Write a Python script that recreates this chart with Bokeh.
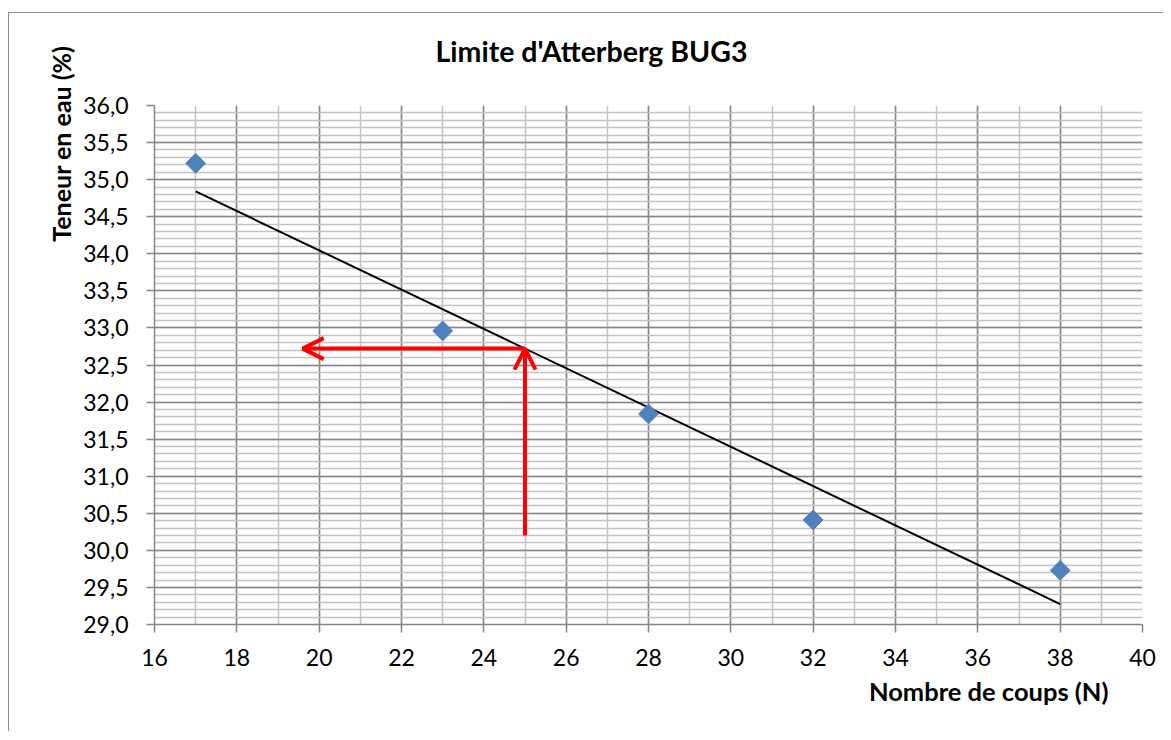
import numpy as np
from bokeh.plotting import figure
from bokeh.models import (ColumnDataSource, SingleIntervalTicker, CustomJSTickFormatter,
                          Title, Arrow, OpenHead, Range1d)
from bokeh.embed import file_html
from bokeh.resources import INLINE

# ---- data ----
blows = [17, 23, 28, 32, 38]                       # Nombre de coups (N)
water = [35.22, 32.96, 31.84, 30.41, 29.73]         # Teneur en eau (%)
title_text = "Limite d'Atterberg BUG3"
x_label = "Nombre de coups (N)"
y_label = "Teneur en eau (%)"
x_range = (16, 40)
y_range = (29.0, 36.0)
limit_blows = 25          # N = 25 for liquid limit
arrow_base = 30.2         # start of the vertical arrow
arrow_left = 19.6         # end of the horizontal arrow

# linear trend line (least squares)
slope, intercept = np.polyfit(blows, water, 1)
trend_x = [min(blows), max(blows)]
trend_y = [slope * v + intercept for v in trend_x]
limit_water = slope * limit_blows + intercept

FONT = "Lato"
MAJOR = "#868686"
MINOR = "#c3c3c3"

p = figure(frame_width=988, frame_height=519,
           min_border_left=145, min_border_right=21,
           min_border_top=92, min_border_bottom=107,
           x_range=Range1d(*x_range), y_range=Range1d(*y_range),
           output_backend="svg", toolbar_location=None, tools="",
           background_fill_color="white", border_fill_color="white",
           outline_line_color=None)
p.margin = (12, 0, 0, 8)
p.styles = {"border-left": "1px solid #8c8c8c", "border-top": "1px solid #8c8c8c"}

xt = SingleIntervalTicker(interval=2, num_minor_ticks=2)
yt = SingleIntervalTicker(interval=0.5, num_minor_ticks=5)
p.xaxis.ticker = xt
p.yaxis.ticker = yt
p.xgrid.ticker = xt
p.ygrid.ticker = yt

for g in (p.xgrid, p.ygrid):
    g.grid_line_color = MAJOR
    g.grid_line_width = 1.5
    g.minor_grid_line_color = MINOR
    g.minor_grid_line_width = 1.5

for ax in (p.xaxis, p.yaxis):
    ax.axis_line_color = MAJOR
    ax.axis_line_width = 1.5
    ax.major_tick_line_color = MAJOR
    ax.major_tick_line_width = 1.5
    ax.major_tick_out = 8
    ax.major_tick_in = 0
    ax.minor_tick_line_color = None
    ax.major_label_text_font = FONT
    ax.major_label_text_font_size = "23px"
    ax.major_label_text_color = "#000000"

p.yaxis.formatter = CustomJSTickFormatter(code="return tick.toFixed(1).replace('.', ',');")
p.xaxis.formatter = CustomJSTickFormatter(code="return tick.toFixed(0);")
p.yaxis.major_label_standoff = 18
p.xaxis.major_label_standoff = 16

# trend line
p.line(trend_x, trend_y, line_color="black", line_width=2)

# data points (diamonds)
src = ColumnDataSource(dict(x=blows, y=water))
p.scatter("x", "y", source=src, marker="square", angle=np.pi / 4, size=14,
          fill_color="#4F81BD", line_color="#4F81BD")

# red arrows
p.add_layout(Arrow(x_start=limit_blows, y_start=arrow_base, x_end=limit_blows, y_end=limit_water,
                   line_color="#FF0000", line_width=4,
                   end=OpenHead(size=21, line_color="#FF0000", line_width=4)))
p.add_layout(Arrow(x_start=limit_blows, y_start=limit_water, x_end=arrow_left, y_end=limit_water,
                   line_color="#FF0000", line_width=4,
                   end=OpenHead(size=21, line_color="#FF0000", line_width=4)))

# texts (titles placed in side panels, spacers first = closest to the frame)
def spacer(size):
    return Title(text=" ", text_font_size=size, text_font=FONT)

p.add_layout(spacer("17px"), "above")
p.add_layout(Title(text=title_text, align="left", offset=281, text_font=FONT,
                   text_font_style="bold", text_font_size="28.5px", text_color="black"), "above")

p.add_layout(Title(text=y_label, align="right", offset=-60, text_font=FONT,
                   text_font_style="bold", text_font_size="25px", text_color="black"), "left")

p.add_layout(Title(text=x_label, align="right", offset=34, text_font=FONT,
                   text_font_style="bold", text_font_size="25.5px", text_color="black"), "below")

open("out.html", "w").write(file_html(p, INLINE))
